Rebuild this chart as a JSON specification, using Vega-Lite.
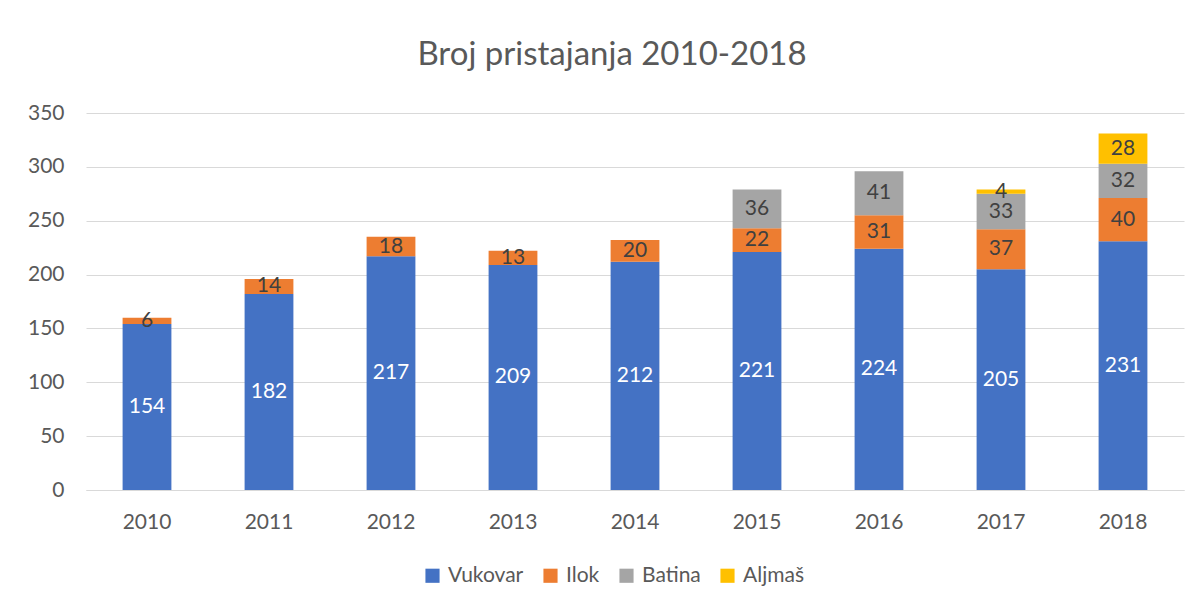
{
  "$schema": "https://vega.github.io/schema/vega-lite/v6.json",
  "width": 1098,
  "height": 377,
  "autosize": {"type": "none"},
  "padding": {"left": 86, "top": 113, "right": 16, "bottom": 115},
  "background": "white",
  "config": {
    "font": "Lato",
    "view": {"stroke": null},
    "axis": {"labelFont": "Lato", "labelFontSize": 21, "labelColor": "#595959"},
    "legend": {"labelFont": "Lato", "labelFontSize": 21, "labelColor": "#595959"}
  },
  "title": {
    "text": "Broj pristajanja 2010-2018",
    "font": "Lato",
    "fontSize": 33,
    "fontWeight": "normal",
    "color": "#595959",
    "anchor": "middle",
    "dx": -23,
    "offset": 30
  },
  "data": {
    "values": [
      {"godina": "2010", "luka": "Vukovar", "red": 1, "broj": 154},
      {"godina": "2010", "luka": "Ilok", "red": 2, "broj": 6},
      {"godina": "2011", "luka": "Vukovar", "red": 1, "broj": 182},
      {"godina": "2011", "luka": "Ilok", "red": 2, "broj": 14},
      {"godina": "2012", "luka": "Vukovar", "red": 1, "broj": 217},
      {"godina": "2012", "luka": "Ilok", "red": 2, "broj": 18},
      {"godina": "2013", "luka": "Vukovar", "red": 1, "broj": 209},
      {"godina": "2013", "luka": "Ilok", "red": 2, "broj": 13},
      {"godina": "2014", "luka": "Vukovar", "red": 1, "broj": 212},
      {"godina": "2014", "luka": "Ilok", "red": 2, "broj": 20},
      {"godina": "2015", "luka": "Vukovar", "red": 1, "broj": 221},
      {"godina": "2015", "luka": "Ilok", "red": 2, "broj": 22},
      {"godina": "2015", "luka": "Batina", "red": 3, "broj": 36},
      {"godina": "2016", "luka": "Vukovar", "red": 1, "broj": 224},
      {"godina": "2016", "luka": "Ilok", "red": 2, "broj": 31},
      {"godina": "2016", "luka": "Batina", "red": 3, "broj": 41},
      {"godina": "2017", "luka": "Vukovar", "red": 1, "broj": 205},
      {"godina": "2017", "luka": "Ilok", "red": 2, "broj": 37},
      {"godina": "2017", "luka": "Batina", "red": 3, "broj": 33},
      {"godina": "2017", "luka": "Aljmaš", "red": 4, "broj": 4},
      {"godina": "2018", "luka": "Vukovar", "red": 1, "broj": 231},
      {"godina": "2018", "luka": "Ilok", "red": 2, "broj": 40},
      {"godina": "2018", "luka": "Batina", "red": 3, "broj": 32},
      {"godina": "2018", "luka": "Aljmaš", "red": 4, "broj": 28}
    ]
  },
  "transform": [
    {"stack": "broj", "groupby": ["godina"], "sort": [{"field": "red", "order": "ascending"}], "as": ["y0", "y1"]},
    {"calculate": "(datum.y0 + datum.y1) / 2", "as": "ymid"}
  ],
  "encoding": {
    "x": {
      "field": "godina",
      "type": "ordinal",
      "title": null,
      "scale": {"paddingInner": 0.6, "paddingOuter": 0.3},
      "axis": {"labelAngle": 0, "ticks": false, "domainColor": "#d9d9d9", "domainWidth": 1, "labelPadding": 21}
    }
  },
  "layer": [
    {
      "mark": {"type": "bar"},
      "encoding": {
        "y": {
          "field": "y0",
          "type": "quantitative",
          "title": null,
          "scale": {"domain": [0, 350], "nice": false},
          "axis": {"values": [0, 50, 100, 150, 200, 250, 300, 350], "ticks": false, "domain": false, "gridColor": "#d9d9d9", "gridWidth": 1, "labelPadding": 22}
        },
        "y2": {"field": "y1"},
        "color": {
          "field": "luka",
          "type": "nominal",
          "title": null,
          "scale": {"domain": ["Vukovar", "Ilok", "Batina", "Aljmaš"], "range": ["#4472C4", "#ED7D31", "#A5A5A5", "#FFC000"]},
          "legend": {"orient": "none", "legendX": 336, "legendY": 452, "direction": "horizontal", "symbolType": "square", "symbolSize": 200, "symbolStrokeWidth": 0, "symbolOpacity": 1, "labelOffset": 5, "columnPadding": 16}
        }
      }
    },
    {
      "mark": {"type": "text", "fontSize": 21, "font": "Lato", "baseline": "middle", "align": "center"},
      "encoding": {
        "y": {"field": "ymid", "type": "quantitative"},
        "text": {"field": "broj", "type": "quantitative"},
        "color": {
          "condition": {"test": "datum.luka === 'Vukovar'", "value": "white"},
          "value": "#404040"
        }
      }
    }
  ]
}
